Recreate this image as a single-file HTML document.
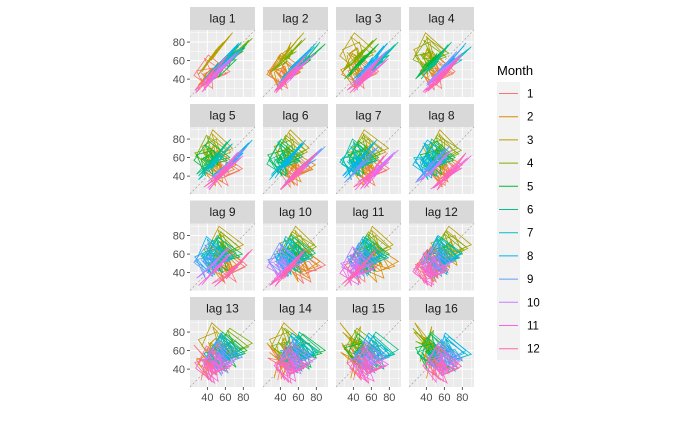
<!DOCTYPE html>
<html><head><meta charset="utf-8"><style>
body{margin:0;background:#fff;}
svg{display:block;font-family:"Liberation Sans",sans-serif;}
</style></head><body>
<svg id="chart" width="700" height="432" viewBox="0 0 700 432"></svg>
<script>
// monthly observed series (20 years, Jan..Dec)
const series = [
 36,43,61,55,53,48,50,46,47,40,37,33,
 41,48,66,60,58,57,51,56,49,45,42,38,
 28,30,45,48,40,42,36,40,33,34,26,28,
 49,50,72,65,63,58,60,57,54,50,44,47,
 52,58,80,70,68,66,61,65,58,55,49,52,
 42,44,60,63,52,55,49,53,46,44,39,36,
 43,50,68,62,60,55,57,54,53,47,41,44,
 51,53,74,72,61,64,59,63,57,52,48,46,
 30,34,48,52,42,40,42,38,36,35,27,25,
 44,45,65,61,57,53,55,52,51,46,39,41,
 66,68,90,84,78,80,75,79,72,68,62,65,
 48,52,70,68,60,61,56,60,53,51,45,43,
 40,42,62,58,55,51,50,52,46,43,38,35,
 45,49,67,66,59,58,55,58,52,49,42,45,
 50,54,73,69,65,60,62,59,56,53,46,48,
 41,46,62,60,56,52,54,51,50,45,40,37,
 62,64,86,82,74,77,72,76,70,66,60,62,
 46,47,66,64,57,56,55,57,52,48,43,41,
 38,41,58,57,52,49,47,50,45,42,36,33,
 47,50,69,67,60,59,56,58,54,50,44,46
];
const lags = [1,2,3,4,5,6,7,8,9,10,11,12,13,14,15,16];
const months = ["1","2","3","4","5","6","7","8","9","10","11","12"];
const colors = ["#F8766D","#DE8C00","#B79F00","#7CAE00","#00BA38","#00C08B","#00BFC4","#00B4F0","#619CFF","#C77CFF","#F564E3","#FF64B0"];
const yTicks = [40,60,80];
const xTicks = [40,60,80];

const NS="http://www.w3.org/2000/svg";
const svg=document.getElementById('chart');
function el(t,a,p){const e=document.createElementNS(NS,t);for(const k in a)e.setAttribute(k,a[k]);(p||svg).appendChild(e);return e;}
const VMIN=20.7,VMAX=93, PW=65, PH=67;
const colX=[190,263,336,409], rowY=[30,127,223.5,320];
function sx(v,x0){return x0+(v-VMIN)/(VMAX-VMIN)*PW;}
function sy(v,y0){return y0+PH-(v-VMIN)/(VMAX-VMIN)*PH;}

lags.forEach((lag,i)=>{
  const r=Math.floor(i/4), c=i%4, x0=colX[c], y0=rowY[r];
  const g=el('g',{});
  
  
  const strip=el('rect',{x:x0,y:y0-23,width:PW,height:23,fill:'#D9D9D9'},g);
  
  
  const st=el('text',{x:x0+PW/2,y:y0-7.5,'text-anchor':'middle','font-size':'12',fill:'#1A1A1A'},g);
  st.textContent='lag '+lag;
  el('rect',{x:x0,y:y0,width:PW,height:PH,fill:'#EBEBEB'},g);
  [30,50,70,90].forEach(v=>{
    el('line',{x1:sx(v,x0),x2:sx(v,x0),y1:y0,y2:y0+PH,stroke:'#fff','stroke-width':0.5},g);
    el('line',{x1:x0,x2:x0+PW,y1:sy(v,y0),y2:sy(v,y0),stroke:'#fff','stroke-width':0.5},g);
  });
  [40,60,80].forEach(v=>{
    el('line',{x1:sx(v,x0),x2:sx(v,x0),y1:y0,y2:y0+PH,stroke:'#fff','stroke-width':1},g);
    el('line',{x1:x0,x2:x0+PW,y1:sy(v,y0),y2:sy(v,y0),stroke:'#fff','stroke-width':1},g);
  });
  el('line',{x1:sx(VMIN,x0),y1:sy(VMIN,y0),x2:sx(VMAX,x0),y2:sy(VMAX,y0),stroke:'#999','stroke-width':0.6,'stroke-dasharray':'2,2'},g);
  months.forEach((m,mi)=>{
    let d='';
    for(let t=lag;t<series.length;t++){
      if(t%12!==mi)continue;
      const px=sx(series[t-lag],x0), py=sy(series[t],y0);
      d+=(d?'L':'M')+px.toFixed(1)+','+py.toFixed(1);
    }
    const p=el('path',{d:d,fill:'none',stroke:colors[mi],'stroke-width':0.8},g);
    
    
  });
  if(c===0){
    yTicks.forEach(v=>{
      el('line',{x1:x0-3,x2:x0,y1:sy(v,y0),y2:sy(v,y0),stroke:'#333','stroke-width':0.8});
      const t=el('text',{x:x0-5,y:sy(v,y0)+4,'text-anchor':'end','font-size':'11',fill:'#4D4D4D'});
      
      
      t.textContent=v;
    });
  }
  if(r===3){
    xTicks.forEach(v=>{
      el('line',{x1:sx(v,x0),x2:sx(v,x0),y1:y0+PH,y2:y0+PH+3,stroke:'#333','stroke-width':0.8});
      const t=el('text',{x:sx(v,x0),y:y0+PH+14,'text-anchor':'middle','font-size':'11',fill:'#4D4D4D'});
      
      
      t.textContent=v;
    });
  }
});
const lg=el('g',{});


const lt=el('text',{x:497,y:75,'font-size':'13',fill:'#000'},lg);
lt.textContent='Month';
el('rect',{x:497,y:82,width:23,height:278,fill:'#F2F2F2'},lg);
months.forEach((m,i)=>{
  const y=93.5+i*23.2;
  const k=el('line',{x1:499,x2:518,y1:y,y2:y,stroke:colors[i],'stroke-width':1},lg);
  
  
  const t=el('text',{x:527,y:y+4,'font-size':'11.5',fill:'#000'},lg);
  
  
  t.textContent=m;
});
</script>
</body></html>
